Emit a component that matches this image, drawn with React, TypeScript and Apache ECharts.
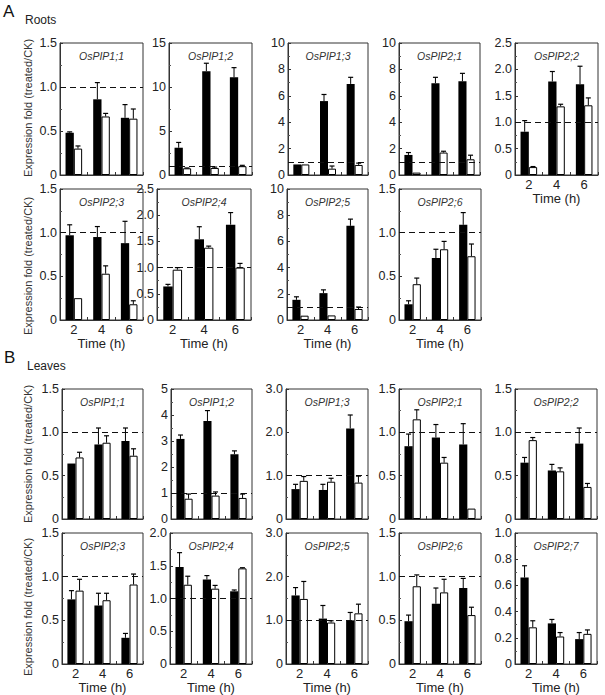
import React, { useEffect, useRef } from 'react';
import * as echarts from 'echarts';

const timeLabels = ['2', '4', '6'];

// Roots (A)
const rootGenes = ['OsPIP1;1', 'OsPIP1;2', 'OsPIP1;3', 'OsPIP2;1', 'OsPIP2;2', 'OsPIP2;3', 'OsPIP2;4', 'OsPIP2;5', 'OsPIP2;6'];
const rootYMax = [1.5, 15, 10, 10, 2.5, 1.5, 2.5, 10, 1.5];
const rootYStep = [0.5, 5, 2, 2, 0.5, 0.5, 0.5, 2, 0.5];
const rootYDecimals = [1, 0, 0, 0, 1, 1, 1, 0, 1];
const rootBlack = [[0.48, 0.86, 0.65], [3.1, 11.8, 11.1], [0.8, 5.6, 6.9], [1.52, 6.96, 7.1], [0.82, 1.77, 1.72], [0.97, 0.95, 0.88], [0.64, 1.54, 1.82], [1.54, 2.05, 7.19], [0.18, 0.71, 1.09]];
const rootBlackErrTop = [[0.49, 1.05, 0.8], [3.7, 12.7, 12.2], [0.8, 6.1, 7.4], [1.7, 7.4, 7.7], [1.03, 1.96, 2.06], [1.09, 1.07, 1.13], [0.68, 1.78, 2.05], [1.77, 2.3, 7.7], [0.22, 0.81, 1.23]];
const rootWhite = [[0.3, 0.665, 0.64], [0.76, 0.8, 1.0], [0.8, 0.48, 0.76], [0.18, 1.7, 1.19], [0.15, 1.3, 1.32], [0.25, 0.53, 0.18], [0.96, 1.38, 1.0], [0.33, 0.35, 0.84], [0.41, 0.81, 0.73]];
const rootWhiteErrTop = [[0.33, 0.7, 0.75], [0.8, 0.9, 1.1], [0.8, 0.68, 0.9], [0.18, 1.8, 1.5], [0.16, 1.34, 1.46], [0.25, 0.62, 0.22], [1.0, 1.41, 1.08], [0.33, 0.35, 0.99], [0.48, 0.9, 0.87]];

// Leaves (B)
const leafGenes = ['OsPIP1;1', 'OsPIP1;2', 'OsPIP1;3', 'OsPIP2;1', 'OsPIP2;2', 'OsPIP2;3', 'OsPIP2;4', 'OsPIP2;5', 'OsPIP2;6', 'OsPIP2;7'];
const leafYMax = [1.5, 5, 3, 1.5, 1.5, 1.5, 2, 3, 1.5, 1.0];
const leafYStep = [0.5, 1, 1, 0.5, 0.5, 0.5, 0.5, 1, 0.5, 0.2];
const leafYDecimals = [1, 0, 1, 1, 1, 1, 1, 1, 1, 1];
const leafBlack = [[0.64, 0.86, 0.9], [3.08, 3.77, 2.49], [0.69, 0.67, 2.09], [0.84, 0.94, 0.86], [0.65, 0.56, 0.87], [0.74, 0.67, 0.3], [1.48, 1.29, 1.11], [1.57, 1.04, 1.0], [0.49, 0.69, 0.87], [0.66, 0.31, 0.19]];
const leafBlackErrTop = [[0.64, 1.05, 1.05], [3.23, 4.17, 2.62], [0.8, 0.8, 2.4], [0.98, 1.09, 1.1], [0.71, 0.63, 1.05], [0.84, 0.81, 0.35], [1.7, 1.35, 1.13], [1.75, 1.34, 1.18], [0.56, 0.87, 0.98], [0.75, 0.34, 0.24]];
const leafWhite = [[0.71, 0.88, 0.73], [0.78, 0.9, 0.81], [0.88, 0.86, 0.84], [1.15, 0.65, 0.12], [0.91, 0.55, 0.37], [0.84, 0.73, 0.91], [1.21, 1.15, 1.46], [1.49, 0.95, 1.16], [0.89, 0.82, 0.56], [0.28, 0.21, 0.23]];
const leafWhiteErrTop = [[0.77, 0.96, 0.81], [0.96, 1.04, 0.96], [0.98, 0.94, 0.99], [1.26, 0.71, 0.12], [0.94, 0.59, 0.41], [0.97, 0.81, 1.03], [1.34, 1.2, 1.47], [1.89, 0.99, 1.37], [1.02, 0.97, 0.65], [0.33, 0.24, 0.26]];

// Layout: [left, top, width, height]
const rootBoxes = [
  [60, 43, 83, 132], [169, 43, 83, 132], [288, 43, 80, 132], [399, 43, 81, 132], [515, 43, 83, 132],
  [60, 189, 83, 131], [157, 189, 94, 131], [287, 189, 81, 131], [399, 189, 82, 131],
];
const rootShowX = [false, false, false, false, true, true, true, true, true];
const leafBoxes = [
  [62, 389, 81, 130], [171, 389, 81, 130], [286, 389, 82, 130], [399, 389, 82, 130], [515, 389, 82, 130],
  [62, 533, 81, 131], [170, 533, 82, 131], [286, 533, 82, 131], [399, 533, 82, 131], [515, 533, 82, 131],
];
const leafShowX = [false, false, false, false, false, true, true, true, true, true];

const FONT = '"Liberation Sans", Arial, sans-serif';
const TXT = '#222';

function buildOption() {
  const grid: any[] = [];
  const xAxis: any[] = [];
  const yAxis: any[] = [];
  const series: any[] = [];
  const graphic: any[] = [];

  const addPanel = (gene: string, ymax: number, step: number, dec: number, black: number[], bErr: number[], white: number[], wErr: number[], box: number[], showX: boolean) => {
    const i = grid.length;
    const [l, t, w, h] = box;
    grid.push({ left: l, top: t, width: w, height: h, show: true, borderColor: '#333', borderWidth: 1, backgroundColor: 'transparent' });
    xAxis.push({
      type: 'category', gridIndex: i, data: timeLabels,
      axisLine: { lineStyle: { color: '#333', width: 1 } },
      axisTick: { show: true, inside: true, length: 3, lineStyle: { color: '#333' } },
      axisLabel: { show: showX, fontSize: 13, color: TXT, margin: 3, fontFamily: FONT },
      name: showX ? 'Time (h)' : '', nameLocation: 'middle', nameGap: 17,
      nameTextStyle: { fontSize: 13, color: TXT, fontFamily: FONT },
    });
    yAxis.push({
      type: 'value', gridIndex: i, min: 0, max: ymax, interval: step,
      axisLine: { show: true, lineStyle: { color: '#333', width: 1 } },
      axisTick: { show: true, inside: true, length: 3, lineStyle: { color: '#333' } },
      minorTick: { show: true, splitNumber: 2, length: 2, lineStyle: { color: '#555' } },
      splitLine: { show: false },
      axisLabel: {
        fontSize: 12.5, color: TXT, margin: 3, fontFamily: FONT,
        formatter: (v: number) => (v === 0 ? '0' : v.toFixed(dec)),
      },
    });
    const blackSeries: any = {
      type: 'bar', xAxisIndex: i, yAxisIndex: i, data: black,
      barGap: '0%', barCategoryGap: '40%',
      itemStyle: { color: '#000' },
    };
    if (ymax > 1) {
      blackSeries.markLine = {
        silent: true, symbol: 'none', label: { show: false },
        lineStyle: { type: [6, 4], color: '#111', width: 1.2 },
        data: [{ yAxis: 1 }],
      };
    }
    series.push(blackSeries);
    series.push({
      type: 'bar', xAxisIndex: i, yAxisIndex: i, data: white,
      barGap: '0%', barCategoryGap: '40%',
      itemStyle: { color: '#fff', borderColor: '#000', borderWidth: 1 },
    });
    const errData: number[][] = [];
    for (let k = 0; k < 3; k++) {
      errData.push([k, black[k], bErr[k], -1]);
      errData.push([k, white[k], wErr[k], 1]);
    }
    series.push({
      type: 'custom', xAxisIndex: i, yAxisIndex: i, data: errData, z: 5,
      encode: { x: 0, y: 1 },
      renderItem: (_p: any, api: any) => {
        const cat = api.value(0);
        const v = api.value(1);
        const top = api.value(2);
        const side = api.value(3);
        if (top <= v + 1e-9) return { type: 'group', children: [] };
        const band = api.size([1, 0])[0];
        const bw = band * 0.3;
        const p0 = api.coord([cat, v]);
        const p1 = api.coord([cat, top]);
        const x = p0[0] + (side * bw) / 2;
        return {
          type: 'group',
          children: [
            { type: 'line', shape: { x1: x, y1: p0[1], x2: x, y2: p1[1] }, style: { stroke: '#000', lineWidth: 1 } },
            { type: 'line', shape: { x1: x - 2.5, y1: p1[1], x2: x + 2.5, y2: p1[1] }, style: { stroke: '#000', lineWidth: 1.2 } },
          ],
        };
      },
    });
    graphic.push({
      type: 'text', x: l + w / 2, y: t + 13,
      style: { text: gene, fontSize: 10.5, fontStyle: 'italic', fill: '#333', fontFamily: FONT, textAlign: 'center', textVerticalAlign: 'middle' },
    });
  };

  rootGenes.forEach((g, k) => addPanel(g, rootYMax[k], rootYStep[k], rootYDecimals[k], rootBlack[k], rootBlackErrTop[k], rootWhite[k], rootWhiteErrTop[k], rootBoxes[k], rootShowX[k]));
  leafGenes.forEach((g, k) => addPanel(g, leafYMax[k], leafYStep[k], leafYDecimals[k], leafBlack[k], leafBlackErrTop[k], leafWhite[k], leafWhiteErrTop[k], leafBoxes[k], leafShowX[k]));

  const yTitleCenters = [108, 266, 454, 607];
  yTitleCenters.forEach((cy) => {
    graphic.push({
      type: 'text', x: 28, y: cy, rotation: Math.PI / 2,
      style: { text: 'Expression fold (treated/CK)', fontSize: 11, fill: '#333', fontFamily: FONT, textAlign: 'center', textVerticalAlign: 'middle' },
    });
  });
  graphic.push({ type: 'text', x: 3, y: 11, style: { text: 'A', fontSize: 17, fill: '#111', fontFamily: FONT, textVerticalAlign: 'middle' } });
  graphic.push({ type: 'text', x: 25, y: 20, style: { text: 'Roots', fontSize: 12, fill: '#222', fontFamily: FONT, textVerticalAlign: 'middle' } });
  graphic.push({ type: 'text', x: 4, y: 357, style: { text: 'B', fontSize: 17, fill: '#111', fontFamily: FONT, textVerticalAlign: 'middle' } });
  graphic.push({ type: 'text', x: 27, y: 366, style: { text: 'Leaves', fontSize: 12, fill: '#222', fontFamily: FONT, textVerticalAlign: 'middle' } });

  return {
    animation: false,
    backgroundColor: '#fff',
    textStyle: { fontFamily: FONT },
    grid, xAxis, yAxis, series, graphic,
  };
}

export default function App() {
  const ref = useRef<HTMLDivElement>(null);
  useEffect(() => {
    if (!ref.current) return;
    const chart = echarts.init(ref.current, undefined, { renderer: 'svg' });
    chart.setOption(buildOption() as any);
    return () => chart.dispose();
  }, []);
  return <div ref={ref} style={{ position: 'absolute', left: 0, top: 0, width: 605, height: 695 }} />;
}
